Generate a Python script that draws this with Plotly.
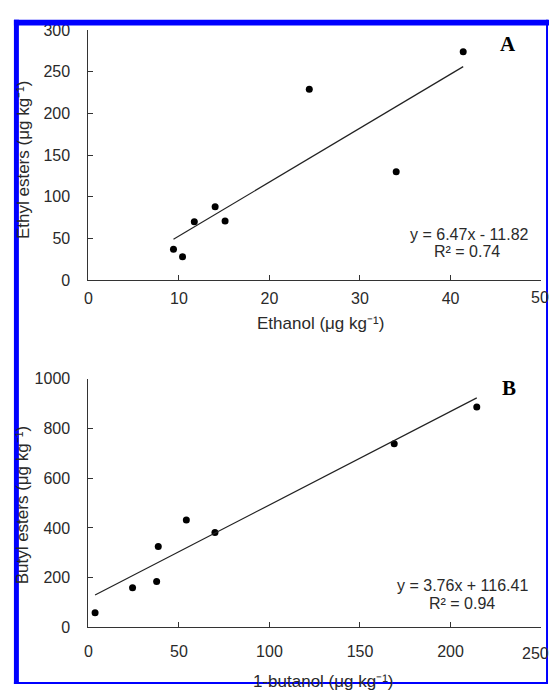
import plotly.graph_objects as go

W, H = 549, 694

# ---- data ----
ethanol = [9.4, 10.4, 11.7, 14.0, 15.1, 24.4, 34.0, 41.4]
ethyl_esters = [37, 28, 70, 88, 71, 229, 130, 274]
fitA = [6.47, -11.82]

butanol = [3.7, 24.4, 37.7, 38.6, 54.1, 69.9, 168.9, 214.5]
butyl_esters = [59, 160, 185, 325, 432, 382, 738, 886]
fitB = [3.76, 116.41]

xticksA = [0, 10, 20, 30, 40, 50]
yticksA = [0, 50, 100, 150, 200, 250, 300]
xticksB = [0, 50, 100, 150, 200, 250]
yticksB = [0, 200, 400, 600, 800, 1000]


def px(x):
    return x / W


def py(y):
    return 1 - y / H


FONT = "Liberation Sans, Arial, sans-serif"
TXT = "#2a2a2a"

fig = go.Figure()

# Panel A
fig.add_trace(go.Scatter(x=ethanol, y=ethyl_esters, mode="markers",
                         marker=dict(color="black", size=7),
                         xaxis="x", yaxis="y", showlegend=False))
xa = [min(ethanol), max(ethanol)]
fig.add_trace(go.Scatter(x=xa, y=[fitA[0] * v + fitA[1] for v in xa], mode="lines",
                         line=dict(color="#222", width=1.2),
                         xaxis="x", yaxis="y", showlegend=False))
# Panel B
fig.add_trace(go.Scatter(x=butanol, y=butyl_esters, mode="markers",
                         marker=dict(color="black", size=7),
                         xaxis="x2", yaxis="y2", showlegend=False))
xb = [min(butanol), max(butanol)]
fig.add_trace(go.Scatter(x=xb, y=[fitB[0] * v + fitB[1] for v in xb], mode="lines",
                         line=dict(color="#222", width=1.2),
                         xaxis="x2", yaxis="y2", showlegend=False))

axis_common = dict(showline=True, linecolor="#333", linewidth=1, ticks="inside",
                   ticklen=5, tickcolor="#333", showgrid=False, zeroline=False,
                   tickfont=dict(family=FONT, size=16, color=TXT))

fig.update_layout(
    width=W, height=H,
    margin=dict(l=0, r=0, t=0, b=0),
    paper_bgcolor="white", plot_bgcolor="white",
    xaxis=dict(domain=[px(85), px(541)], anchor="y", range=[0, 50],
               tickvals=xticksA, ticklabelstandoff=4, **axis_common),
    yaxis=dict(domain=[py(279), py(22.5)], anchor="x", range=[0, 300],
               tickvals=yticksA, ticklabelstandoff=14, **axis_common),
    xaxis2=dict(domain=[px(85), px(541)], anchor="y2", range=[0, 250],
                tickvals=xticksB, ticklabelstandoff=9, **axis_common),
    yaxis2=dict(domain=[py(635), py(380)], anchor="x2", range=[0, 1000],
                tickvals=yticksB, ticklabelstandoff=14, **axis_common),
)

ann = []


def text(x, y, s, size=17, angle=0, family=FONT, color=TXT, xanchor="center"):
    ann.append(dict(x=px(x), y=py(y), xref="paper", yref="paper", text=s,
                    showarrow=False, textangle=angle, xanchor=xanchor, yanchor="middle",
                    font=dict(family=family, size=size, color=color)))


text(319, 323, "Ethanol (μg kg⁻¹)")
text(19, 156, "Ethyl esters (μg kg⁻¹)", angle=-90)
text(469, 232, "y = 6.47x - 11.82", size=16)
text(466, 250, "R² = 0.74", size=16)
text(508, 37, "<b>A</b>", size=21, family="Liberation Serif, Times New Roman, serif", color="black")
# last x tick label, clipped by the frame edge as in the reference
text(551, 297, str(xticksA[-1]), size=16, xanchor="right")

text(322, 690, "1-butanol (μg kg⁻¹)")
text(19, 510, "Butyl esters (μg kg⁻¹)", angle=-90)
text(462, 592, "y = 3.76x + 116.41", size=16)
text(461, 610, "R² = 0.94", size=16)
text(509, 390, "<b>B</b>", size=21, family="Liberation Serif, Times New Roman, serif", color="black")
text(551, 662, str(xticksB[-1]), size=16, xanchor="right")

fig.update_layout(annotations=ann)

# blue frame
BLUE = "#0000FF"
shapes = []
for (x0, y0, x1, y1) in [(10, 12, 15, 693), (10, 12, 549, 18), (546, 12, 548, 693), (10, 691, 548, 693)]:
    shapes.append(dict(type="rect", xref="paper", yref="paper", x0=px(x0), x1=px(x1),
                       y0=py(y1), y1=py(y0), fillcolor=BLUE, line=dict(width=0), layer="above"))
fig.update_layout(shapes=shapes)

post = (
    "document.documentElement.style.overflow='hidden';"
    "document.body.style.margin='0';document.body.style.overflow='hidden';"
)

fig.write_html("out.html", config={"displayModeBar": False}, post_script=post)
